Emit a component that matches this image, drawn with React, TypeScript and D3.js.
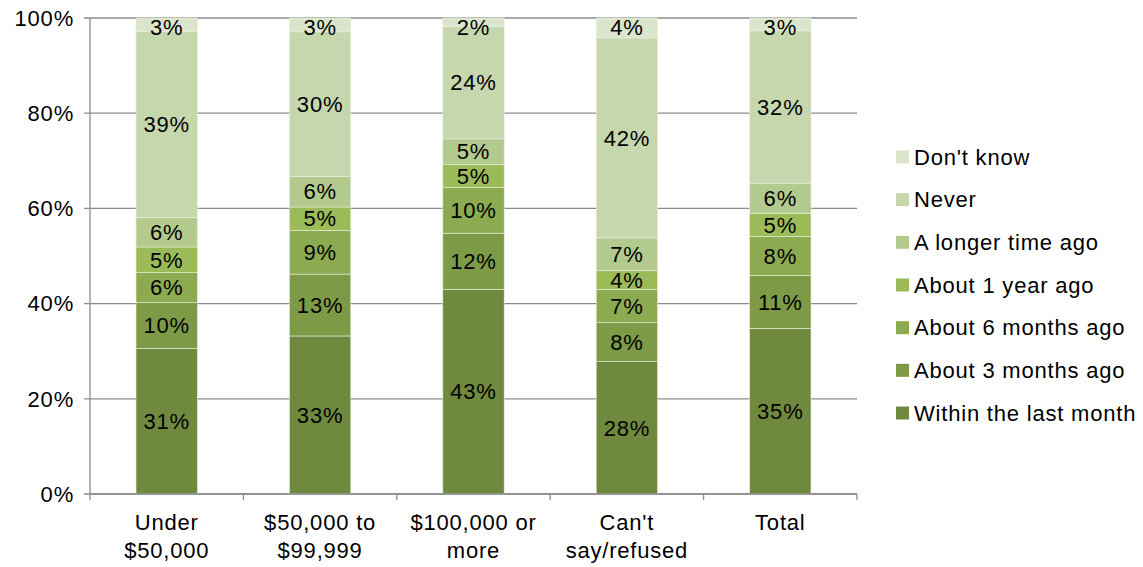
import React from "react";
import * as d3 from "d3";

const categories = ["Under\n$50,000", "$50,000 to\n$99,999", "$100,000 or\nmore", "Can't\nsay/refused", "Total"];
const seriesNames = [
  "Within the last month",
  "About 3 months ago",
  "About 6 months ago",
  "About 1 year ago",
  "A longer time ago",
  "Never",
  "Don't know",
];
const withinLastMonth = [30.6, 33.2, 43.0, 27.8, 34.8];
const about3Months = [9.6, 13.0, 11.8, 8.2, 11.1];
const about6Months = [6.3, 9.2, 9.6, 7.0, 8.2];
const about1Year = [5.4, 4.9, 4.8, 3.9, 4.9];
const longerAgo = [6.2, 6.4, 5.4, 6.9, 6.3];
const never = [39.1, 30.4, 23.6, 42.0, 32.0];
const dontKnow = [2.8, 2.9, 1.8, 4.2, 2.7];
const colors = ["#6f8a3f", "#7d9b47", "#8cab51", "#9bbb59", "#b3ca8e", "#c6d7ae", "#dae5cb"];
const yTicks = [0, 20, 40, 60, 80, 100];

const seriesValues = [withinLastMonth, about3Months, about6Months, about1Year, longerAgo, never, dontKnow];

export default function App() {
  const W = 1143, H = 567;
  const left = 90, right = 857, top = 18, bottom = 494;
  const x = d3.scaleBand<number>().domain(d3.range(categories.length)).range([left, right]).paddingInner(0.6).paddingOuter(0.3);
  const xOuter = d3.scaleBand<number>().domain(d3.range(categories.length)).range([left, right]);
  const y = d3.scaleLinear().domain([0, 100]).range([bottom, top]);
  const rows = categories.map((_, i) => {
    const o: any = {};
    seriesNames.forEach((s, k) => (o[s] = seriesValues[k][i]));
    return o;
  });
  const stacked = d3.stack<any>().keys(seriesNames)(rows);
  const font = "'Liberation Sans', Arial, sans-serif";
  const grid = "#8c8c8c";
  const fs = 22;
  const ls = 0.8;
  const legendY = d3.scalePoint<string>().domain([...seriesNames].reverse()).range([157, 413]);

  return (
    <svg width={W} height={H} style={{ position: "absolute", left: 0, top: 0 }} fontFamily={font} letterSpacing={ls}>
      {yTicks.map((t) => (
        <g key={t}>
          <line x1={left - 6} x2={right} y1={y(t)} y2={y(t)} stroke={grid} strokeWidth={1.3} />
          <text x={74} y={y(t)} dy="0.35em" textAnchor="end" fontSize={fs} fill="#000">{t}%</text>
        </g>
      ))}
      <line x1={left} x2={left} y1={top} y2={bottom} stroke={grid} strokeWidth={1.3} />
      {d3.range(categories.length + 1).map((i) => {
        const xx = i < categories.length ? (xOuter(i) as number) : right;
        return <line key={i} x1={xx} x2={xx} y1={bottom} y2={bottom + 6} stroke={grid} strokeWidth={1.3} />;
      })}
      {stacked.map((layer, k) => (
        <g key={k}>
          {layer.map((d, i) => (
            <rect key={i} x={x(i)} width={x.bandwidth()} y={y(d[1])} height={y(d[0]) - y(d[1])} fill={colors[k]} stroke="#e8eedd" strokeWidth={0.6} />
          ))}
        </g>
      ))}
      {stacked.map((layer, k) => (
        <g key={"l" + k}>
          {layer.map((d, i) => {
            const cy = (y(d[0]) + y(d[1])) / 2;
            return (
              <text key={i} x={(x(i) as number) + x.bandwidth() / 2} y={k === 6 ? y(d[1]) + 9 : cy} dy="0.35em" textAnchor="middle" fontSize={fs} fill="#000">
                {Math.round(d[1] - d[0])}%
              </text>
            );
          })}
        </g>
      ))}
      <line x1={left} x2={right} y1={bottom} y2={bottom} stroke={grid} strokeWidth={1.3} />
      {categories.map((c, i) => (
        <text key={i} x={(xOuter(i) as number) + xOuter.bandwidth() / 2} y={522} textAnchor="middle" fontSize={fs} fill="#000">
          {c.split("\n").map((line, j) => (
            <tspan key={j} x={(xOuter(i) as number) + xOuter.bandwidth() / 2} dy={j === 0 ? "0.35em" : 28}>{line}</tspan>
          ))}
        </text>
      ))}
      {seriesNames.map((s, k) => (
        <g key={s} transform={`translate(896, ${legendY(s)})`}>
          <rect x={0} y={-6.5} width={13} height={13} fill={colors[k]} />
          <text x={18} y={0} dy="0.35em" fontSize={fs} fill="#000">{s}</text>
        </g>
      ))}
    </svg>
  );
}
